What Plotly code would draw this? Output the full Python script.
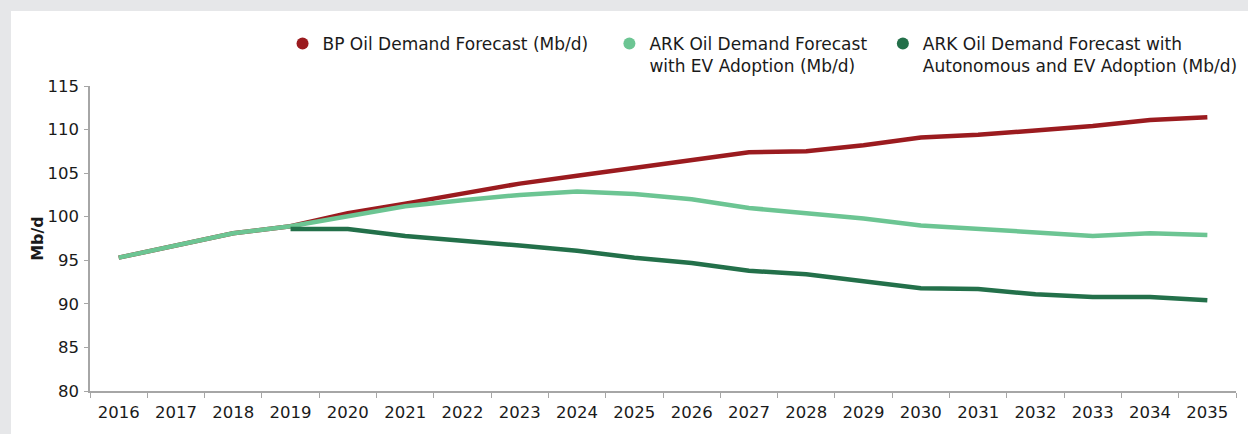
import plotly.graph_objects as go

years = [str(y) for y in range(2016, 2036)]
bp_demand = [95.3, 96.7, 98.1, 98.9, 100.4, 101.5, 102.6, 103.8, 104.7, 105.6,
             106.6, 107.4, 107.5, 108.2, 109.1, 109.4, 109.9, 110.4, 111.1, 111.4]
ark_ev = [95.3, 96.7, 98.1, 98.9, 100.1, 101.2, 101.9, 102.5, 102.9, 102.6,
          102.0, 101.0, 100.4, 99.8, 99.0, 98.6, 98.1, 97.8, 98.1, 97.9]
ark_auto_years = years[3:]
ark_auto_ev = [98.6, 98.6, 97.8, 97.3, 96.7, 96.1, 95.3, 94.7, 93.8, 93.4,
               92.6, 91.8, 91.7, 91.1, 90.8, 90.8, 90.4]

names = ["BP Oil Demand Forecast (Mb/d)&nbsp;&nbsp;&nbsp;",
         "ARK Oil Demand Forecast&nbsp;&nbsp;<br>with EV Adoption (Mb/d)",
         "ARK Oil Demand Forecast with<br>Autonomous and EV Adoption (Mb/d)"]
colors = ["#9b1b1f", "#6cc593", "#23704a"]

FONT = "DejaVu Sans"
fig = go.Figure()
series = [(years, bp_demand), (years, ark_ev), (ark_auto_years, ark_auto_ev)]
for (xs, ys), c in zip(series, colors):
    fig.add_trace(go.Scatter(x=xs, y=ys, mode="lines", showlegend=False,
                             line=dict(color=c, width=4.5), hoverinfo="x+y"))
for n, c in zip(names, colors):
    fig.add_trace(go.Scatter(x=[None], y=[None], mode="markers", name=n,
                             marker=dict(color=c, size=16, symbol="circle")))

L, R, T, B = 90, 12, 86, 43
W, H = 1248, 434
pw, ph = W - L - R, H - T - B
fig.add_shape(type="rect", xref="paper", yref="paper", layer="below",
              x0=(11 - L) / pw, x1=(W - L) / pw,
              y0=-(B + 5) / ph, y1=(H - B - 11) / ph,
              fillcolor="white", line=dict(width=0))

fig.update_layout(
    width=W, height=H,
    margin=dict(l=L, r=R, t=T, b=B, autoexpand=False),
    paper_bgcolor="#e6e7e9",
    plot_bgcolor="white",
    font=dict(family=FONT, size=16, color="#1a1a1a"),
    legend=dict(orientation="h", xref="container", yref="container",
                x=0.2264, xanchor="left", y=0.94, yanchor="top",
                valign="top", bgcolor="rgba(0,0,0,0)", font=dict(size=17),
                itemsizing="constant", tracegroupgap=0),
    xaxis=dict(type="category", range=[-0.5, 19.5], showgrid=False, showline=True,
               linecolor="#a6a6a6", linewidth=1.5, ticks="outside",
               tickson="boundaries", ticklen=5, tickcolor="#a6a6a6",
               tickfont=dict(size=16.5), ticklabelstandoff=5),
    yaxis=dict(range=[80, 115], dtick=5, showgrid=False, showline=True,
               zeroline=False,
               linecolor="#a6a6a6", linewidth=1.5, ticks="outside",
               ticklen=4, tickcolor="#a6a6a6", tickfont=dict(size=16.5),
               ticklabelstandoff=2,
               title=dict(text="<b>Mb/d</b>", font=dict(size=16), standoff=0)),
)

fig.write_html(
    "out.html",
    config={"displayModeBar": False},
    post_script="document.body.style.margin='0';"
                "document.body.style.background='#e6e7e9';",
)
